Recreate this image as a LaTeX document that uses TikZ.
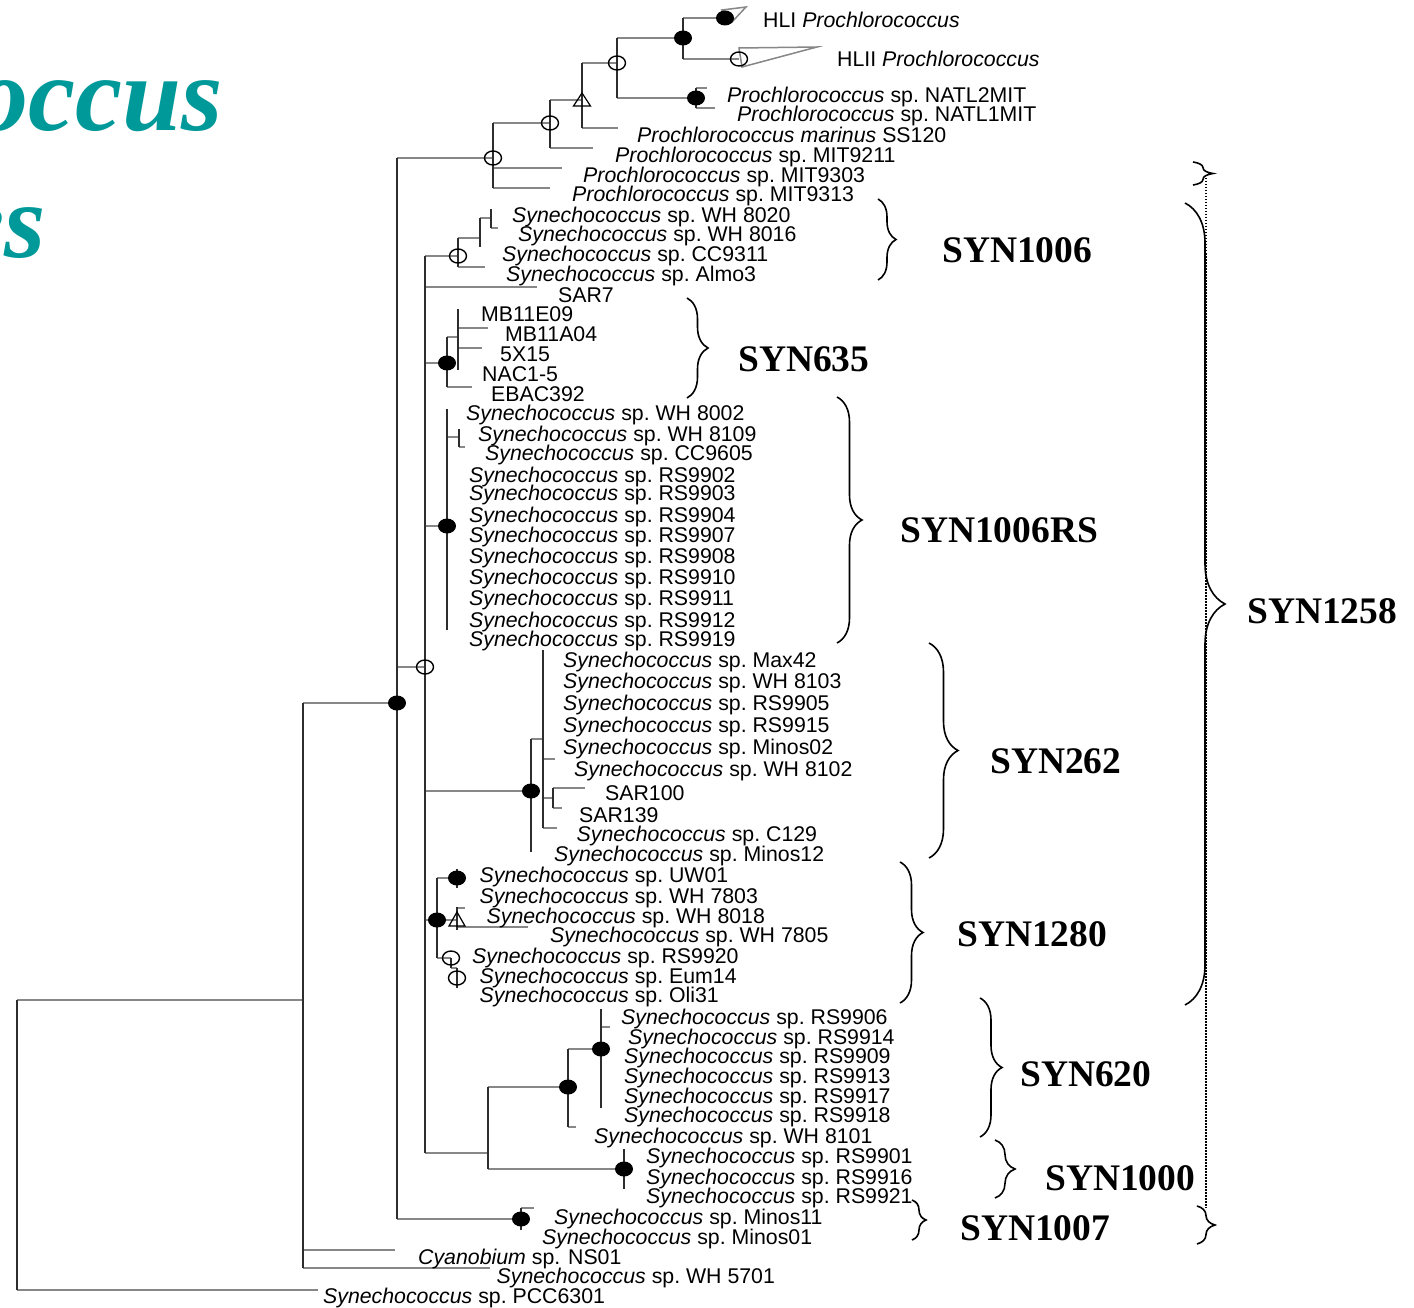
\documentclass[tikz,border=0pt]{standalone}
\usepackage{fontspec}
\setmainfont{Liberation Sans}
\newfontfamily\tnr{Liberation Serif}
\usetikzlibrary{shapes.geometric,decorations.pathreplacing}
\definecolor{hcol}{RGB}{135,135,135}
\definecolor{vcol}{RGB}{45,45,45}
\definecolor{titlecol}{RGB}{0,153,153}
\newcommand\synsp{\textit{Synechococcus} sp.}
\newcommand\prosp{\textit{Prochlorococcus} sp.}
\newcommand\vbranch[3]{\draw[vbr] (#1 |- 0,#2) -- (#1 |- 0,#3);}
\newcommand\hbranch[2]{\draw[hbr] (#1 |- #2) -- (#2);}
\tikzset{
  hbr/.style={draw=hcol, line width=1.9pt},
  vbr/.style={draw=vcol, line width=1.3pt},
  fdot/.style={ellipse, fill=black, minimum width=18pt, minimum height=15pt, inner sep=0pt},
  odot/.style={ellipse, draw=black, line width=1.4pt, minimum width=17pt, minimum height=14pt, inner sep=0pt},
  trimk/.style={draw=black, line width=1.2pt},
  clade/.style={draw=hcol, line width=1.5pt},
  lab/.style={anchor=base west, inner sep=0pt, font=\fontsize{21.3}{21.3}\selectfont},
  grp/.style={anchor=base west, inner sep=0pt, font=\tnr\bfseries\fontsize{37.5}{37.5}\selectfont},
  brc/.style={decorate, decoration={brace, amplitude=#1}, line width=1.6pt},
  ttl/.style={anchor=base east, inner sep=0pt, text=titlecol, font=\tnr\bfseries\itshape\fontsize{106}{106}\selectfont},
}
\begin{document}
\begin{tikzpicture}[x=1pt,y=-1pt]
\useasboundingbox (0,0) rectangle (1414,1308);
\fill[white] (0,0) rectangle (1414,1308);
\begin{scope}
\clip (0,0) rectangle (1414,1308);
\node[ttl] (t1) at (223,131) {occus};
\node[ttl] (t2) at (46,258) {es};
\end{scope}

% ---- coordinates of tree nodes ----
\coordinate (R0) at (17,1145);
\coordinate (A) at (303,1000);
\coordinate (ePCC) at (318,1290);
\coordinate (B) at (397,703);
\coordinate (eNS01) at (395,1250);
\coordinate (eWH5701) at (490,1268);
\coordinate (P) at (493,158);
\coordinate (C) at (425,667);
\coordinate (M) at (521,1219);
\coordinate (P1) at (550,123);
\coordinate (e9303) at (562,168);
\coordinate (e9313) at (550,188);
\coordinate (P2) at (582,100);
\coordinate (e9211) at (593,148);
\coordinate (P3) at (617,63);
\coordinate (eSS120) at (618,128);
\coordinate (P4) at (683,38);
\coordinate (P5) at (696,98);
\coordinate (HLI) at (725,18);
\coordinate (HLII) at (739,59);
\coordinate (eNATL2) at (707,88);
\coordinate (eNATL1) at (715,108);
\coordinate (S6) at (458,256);
\coordinate (eSAR7) at (537,287);
\coordinate (S635) at (447,363);
\coordinate (SRS) at (447,526);
\coordinate (S262) at (531,791);
\coordinate (S1280) at (437,920);
\coordinate (S620a) at (488,1153);
\coordinate (S6a) at (480,238);
\coordinate (eAlmo3) at (485,267);
\coordinate (S6b) at (491,218);
\coordinate (eWH8016) at (498,228);
\coordinate (S635a) at (458,337);
\coordinate (eEBAC) at (472,387);
\coordinate (eMB11A04) at (488,328);
\coordinate (e5X15) at (482,348);
\coordinate (SRSa) at (459,437);
\coordinate (eCC9605) at (465,447);
\coordinate (S262a) at (543,739);
\coordinate (eWH8102) at (555,759);
\coordinate (S262b) at (553,798);
\coordinate (eC129) at (557,828);
\coordinate (eSAR100) at (585,788);
\coordinate (eSAR139) at (562,808);
\coordinate (S1280a) at (457,878);
\coordinate (S1280b) at (457,920);
\coordinate (S1280c) at (451,958);
\coordinate (S1280d) at (457,968);
\coordinate (eWH8018) at (465,908);
\coordinate (eWH7805) at (528,927);
\coordinate (S620) at (568,1087);
\coordinate (S1000) at (624,1169);
\coordinate (S620b) at (601,1049);
\coordinate (eWH8101) at (576,1127);
\coordinate (eS620b) at (610,1027);
\coordinate (eM) at (534,1208);

% ---- horizontal branches ----
\hbranch{R0}{A}\hbranch{R0}{ePCC}
\hbranch{A}{B}\hbranch{A}{eNS01}\hbranch{A}{eWH5701}
\hbranch{B}{P}\hbranch{B}{C}\hbranch{B}{M}
\hbranch{P}{P1}\hbranch{P}{e9303}\hbranch{P}{e9313}
\hbranch{P1}{P2}\hbranch{P1}{e9211}
\hbranch{P2}{P3}\hbranch{P2}{eSS120}
\hbranch{P3}{P4}\hbranch{P3}{P5}
\hbranch{P4}{HLI}\hbranch{P4}{HLII}
\hbranch{P5}{eNATL2}\hbranch{P5}{eNATL1}
\hbranch{C}{S6}\hbranch{C}{eSAR7}\hbranch{C}{S635}\hbranch{C}{SRS}
\hbranch{C}{S262}\hbranch{C}{S1280}\hbranch{C}{S620a}
\hbranch{S6}{S6a}\hbranch{S6}{eAlmo3}
\hbranch{S6a}{S6b}\hbranch{S6b}{eWH8016}
\hbranch{S635}{S635a}\hbranch{S635}{eEBAC}
\hbranch{S635a}{eMB11A04}\hbranch{S635a}{e5X15}
\hbranch{SRS}{SRSa}\hbranch{SRSa}{eCC9605}
\hbranch{S262}{S262a}\hbranch{S262a}{eWH8102}\hbranch{S262a}{S262b}\hbranch{S262a}{eC129}
\hbranch{S262b}{eSAR100}\hbranch{S262b}{eSAR139}
\hbranch{S1280}{S1280a}\hbranch{S1280}{S1280b}\hbranch{S1280}{S1280c}
\hbranch{S1280c}{S1280d}
\hbranch{S1280b}{eWH8018}\hbranch{S1280b}{eWH7805}
\hbranch{S620a}{S620}\hbranch{S620a}{S1000}
\hbranch{S620}{S620b}\hbranch{S620}{eWH8101}
\hbranch{S620b}{eS620b}
\hbranch{M}{eM}

% ---- vertical branches ----
\vbranch{R0}{1000}{1290}
\vbranch{A}{703}{1268}
\vbranch{B}{158}{1219}
\vbranch{P}{123}{188}
\vbranch{P1}{100}{148}
\vbranch{P2}{63}{128}
\vbranch{P3}{38}{98}
\vbranch{P4}{18}{59}
\vbranch{P5}{88}{108}
\vbranch{C}{256}{1153}
\vbranch{S6}{238}{267}
\vbranch{S6a}{218}{247}
\vbranch{S6b}{209}{228}
\vbranch{S635}{337}{387}
\vbranch{S635a}{309}{370}
\vbranch{SRS}{409}{630}
\vbranch{SRSa}{429}{447}
\vbranch{S262}{739}{852}
\vbranch{S262a}{650}{828}
\vbranch{S262b}{788}{808}
\vbranch{S1280}{878}{958}
\vbranch{S1280a}{869}{888}
\vbranch{S1280b}{907}{930}
\vbranch{S1280c}{958}{968}
\vbranch{S1280d}{968}{988}
\vbranch{S620a}{1087}{1169}
\vbranch{S620}{1049}{1127}
\vbranch{S620b}{1009}{1108}
\vbranch{S1000}{1149}{1189}
\vbranch{M}{1208}{1230}

% ---- collapsed clades ----
\draw[clade] ([shift={(-3,-8)}]HLI) -- ([shift={(21,-11)}]HLI) -- ([shift={(7,4)}]HLI) -- cycle;
\draw[clade] ([shift={(0,-11)}]HLII) -- ([shift={(78,-12)}]HLII) -- ([shift={(3,8)}]HLII) -- cycle;

% ---- support markers ----
\node[fdot] (mB) at (B) {};
\node[fdot] (mP4) at (P4) {};
\node[fdot] (mHLI) at (HLI) {};
\node[fdot] (mP5) at (P5) {};
\node[fdot] (mS635) at (S635) {};
\node[fdot] (mSRS) at (SRS) {};
\node[fdot] (mS262) at (S262) {};
\node[fdot] (mS1280) at (S1280) {};
\node[fdot] (mS1280a) at (S1280a) {};
\node[fdot] (mS620) at (S620) {};
\node[fdot] (mS620b) at (S620b) {};
\node[fdot] (mS1000) at (S1000) {};
\node[fdot] (mM) at (M) {};
\node[odot] (mP) at (P) {};
\node[odot] (mP1) at (P1) {};
\node[odot] (mP3) at (P3) {};
\node[odot] (mHLII) at (HLII) {};
\node[odot] (mC) at (C) {};
\node[odot] (mS6) at (S6) {};
\node[odot] (mS1280c) at (S1280c) {};
\node[odot] (mS1280d) at ([shift={(0,10)}]S1280d) {};
\draw[trimk] ([shift={(-8.5,6)}]P2) -- ([shift={(0,-7)}]P2) -- ([shift={(8.5,6)}]P2) -- cycle;
\draw[trimk] ([shift={(-8,6)}]S1280b) -- ([shift={(0,-8)}]S1280b) -- ([shift={(8,6)}]S1280b) -- cycle;

% ---- leaf labels ----
\node[lab] (l1) at (763,28) {HLI \textit{Prochlorococcus}};
\node[lab] (l2) at (837,66.5) {HLII \textit{Prochlorococcus}};
\node[lab] (l3) at (727,102.5) {\prosp\ NATL2MIT};
\node[lab] (l4) at (737,121.5) {\prosp\ NATL1MIT};
\node[lab] (l5) at (637,142.5) {\textit{Prochlorococcus marinus} SS120};
\node[lab] (l6) at (615,162.5) {\prosp\ MIT9211};
\node[lab] (l7) at (583,182.5) {\prosp\ MIT9303};
\node[lab] (l8) at (572,202) {\prosp\ MIT9313};
\node[lab] (l9) at (512,222.5) {\synsp\ WH 8020};
\node[lab] (l10) at (518,242) {\synsp\ WH 8016};
\node[lab] (l11) at (502,261.5) {\synsp\ CC9311};
\node[lab] (l12) at (506,281) {\synsp\ Almo3};
\node[lab] (l13) at (558,302) {SAR7};
\node[lab] (l14) at (481,321) {MB11E09};
\node[lab] (l15) at (505,341.5) {MB11A04};
\node[lab] (l16) at (500,361.5) {5X15};
\node[lab] (l17) at (482,381.5) {NAC1-5};
\node[lab] (l18) at (491,401) {EBAC392};
\node[lab] (l19) at (466,420.5) {\synsp\ WH 8002};
\node[lab] (l20) at (478,441.5) {\synsp\ WH 8109};
\node[lab] (l21) at (485,460.5) {\synsp\ CC9605};
\node[lab] (l22) at (469,482) {\synsp\ RS9902};
\node[lab] (l23) at (469,500.5) {\synsp\ RS9903};
\node[lab] (l24) at (469,522.5) {\synsp\ RS9904};
\node[lab] (l25) at (469,542.5) {\synsp\ RS9907};
\node[lab] (l26) at (469,563.5) {\synsp\ RS9908};
\node[lab] (l27) at (469,584.5) {\synsp\ RS9910};
\node[lab] (l28) at (469,605.5) {\synsp\ RS9911};
\node[lab] (l29) at (469,627.5) {\synsp\ RS9912};
\node[lab] (l30) at (469,646) {\synsp\ RS9919};
\node[lab] (l31) at (563,667) {\synsp\ Max42};
\node[lab] (l32) at (563,688.5) {\synsp\ WH 8103};
\node[lab] (l33) at (563,710.5) {\synsp\ RS9905};
\node[lab] (l34) at (563,732.5) {\synsp\ RS9915};
\node[lab] (l35) at (563,754.5) {\synsp\ Minos02};
\node[lab] (l36) at (574,776) {\synsp\ WH 8102};
\node[lab] (l37) at (605,800.5) {SAR100};
\node[lab] (l38) at (579,822) {SAR139};
\node[lab] (l39) at (576.5,841) {\synsp\ C129};
\node[lab] (l40) at (554,861.5) {\synsp\ Minos12};
\node[lab] (l41) at (479.5,882) {\synsp\ UW01};
\node[lab] (l42) at (479.5,903) {\synsp\ WH 7803};
\node[lab] (l43) at (486.5,923.5) {\synsp\ WH 8018};
\node[lab] (l44) at (550,942.5) {\synsp\ WH 7805};
\node[lab] (l45) at (472,963) {\synsp\ RS9920};
\node[lab] (l46) at (479.5,983.5) {\synsp\ Eum14};
\node[lab] (l47) at (479.5,1002.5) {\synsp\ Oli31};
\node[lab] (l48) at (621,1024) {\synsp\ RS9906};
\node[lab] (l49) at (628,1044) {\synsp\ RS9914};
\node[lab] (l50) at (624,1063.5) {\synsp\ RS9909};
\node[lab] (l51) at (624,1083.5) {\synsp\ RS9913};
\node[lab] (l52) at (624,1103.5) {\synsp\ RS9917};
\node[lab] (l53) at (624,1122.5) {\synsp\ RS9918};
\node[lab] (l54) at (594,1143) {\synsp\ WH 8101};
\node[lab] (l55) at (646,1163) {\synsp\ RS9901};
\node[lab] (l56) at (646,1184) {\synsp\ RS9916};
\node[lab] (l57) at (646,1203.5) {\synsp\ RS9921};
\node[lab] (l58) at (554,1224) {\synsp\ Minos11};
\node[lab] (l59) at (542,1244) {\synsp\ Minos01};
\node[lab] (l60) at (418,1264) {\textit{Cyanobium} sp. NS01};
\node[lab] (l61) at (496.5,1283.5) {\synsp\ WH 5701};
\node[lab] (l62) at (323,1303) {\synsp\ PCC6301};

% ---- group braces ----
\draw[brc=18] (878,199) -- (878,280);
\draw[brc=21] (687,298) -- (687,398);
\draw[brc=25] (837,397) -- (837,643);
\draw[brc=29] (929,643) -- (929,858);
\draw[brc=23] (900,862) -- (900,1003);
\draw[brc=22] (980,998) -- (980,1137);
\draw[brc=20] (995,1140) -- (995,1198);
\draw[brc=14] (912,1200) -- (912,1240);
\draw[brc=40] (1185,203) -- (1185,1005);
\draw[brc=20] (1193,162) -- (1193,185);
\draw[brc=18] (1197,1206) -- (1197,1244);
\draw[line width=1.3pt, dash pattern=on 1.5pt off 1.5pt] (1206,178) -- (1206,1208);

\node[grp] (g1) at (942,262) {SYN1006};
\node[grp] (g2) at (738,371) {SYN635};
\node[grp] (g3) at (900,542) {SYN1006RS};
\node[grp] (g4) at (990,773) {SYN262};
\node[grp] (g5) at (957,946) {SYN1280};
\node[grp] (g6) at (1020,1086) {SYN620};
\node[grp] (g7) at (1045,1190) {SYN1000};
\node[grp] (g8) at (960,1240) {SYN1007};
\node[grp] (g9) at (1247,623) {SYN1258};
\end{tikzpicture}
\end{document}
